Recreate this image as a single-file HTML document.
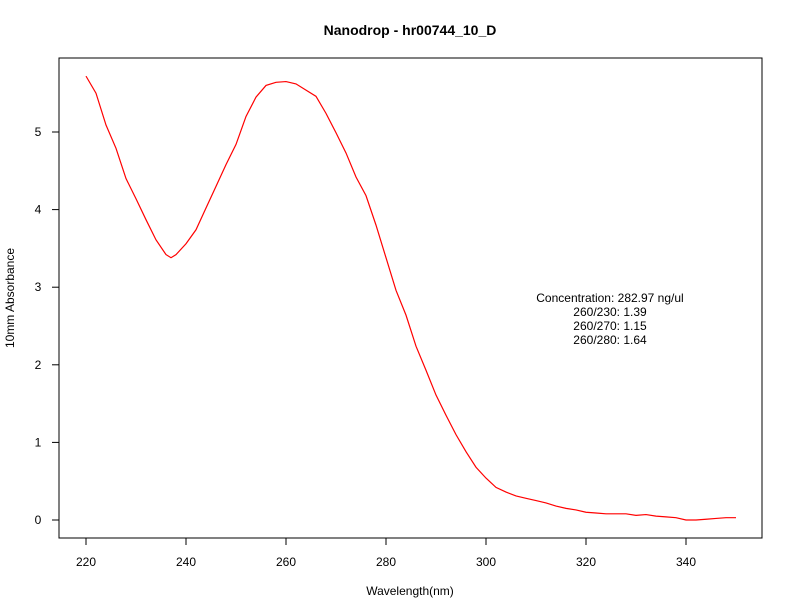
<!DOCTYPE html>
<html><head><meta charset="utf-8"><style>body{margin:0;background:#fff}svg{display:block;font-family:"Liberation Sans",sans-serif}</style></head>
<body>
<svg width="792" height="612">
<text x="410" y="35" text-anchor="middle" font-weight="bold" font-size="14">Nanodrop - hr00744_10_D</text>
<rect x="59" y="58" width="703" height="480" fill="none" stroke="#000"/>
<g id="xaxis"></g>
<g id="yaxis"></g>
<text x="410" y="595" text-anchor="middle" font-size="12">Wavelength(nm)</text>
<text transform="translate(14,298) rotate(-90)" text-anchor="middle" font-size="12">10mm Absorbance</text>
<polyline id="curve" fill="none" stroke="#f00" stroke-width="1.2"/>
<g font-size="12" text-anchor="middle">
<text x="610" y="302">Concentration: 282.97 ng/ul</text>
<text x="610" y="316">260/230: 1.39</text>
<text x="610" y="330">260/270: 1.15</text>
<text x="610" y="344">260/280: 1.64</text>
</g>
</svg>
<script>
const wavelengths=[220,222,224,226,228,230,232,234,236,237,238,240,242,244,246,248,250,252,254,256,258,260,262,264,266,268,270,272,274,276,278,280,282,284,286,288,290,292,294,296,298,300,302,304,306,308,310,312,314,316,318,320,322,324,326,328,330,332,334,336,338,340,342,344,346,348,350];
const absorbance=[5.72,5.50,5.09,4.79,4.40,4.14,3.87,3.61,3.42,3.38,3.42,3.56,3.74,4.02,4.30,4.58,4.84,5.20,5.45,5.60,5.64,5.65,5.62,5.54,5.46,5.24,4.99,4.73,4.42,4.18,3.80,3.38,2.96,2.64,2.24,1.93,1.61,1.35,1.10,0.88,0.68,0.54,0.42,0.36,0.31,0.28,0.25,0.22,0.18,0.15,0.13,0.10,0.09,0.08,0.08,0.08,0.06,0.07,0.05,0.04,0.03,0.0,0.0,0.01,0.02,0.03,0.03];
const xTicks=[220,240,260,280,300,320,340];
const yTicks=[0,1,2,3,4,5];
const NS="http://www.w3.org/2000/svg";
const xs=v=>86+(v-220)*5;
const ys=v=>520-v*77.6;
document.getElementById('curve').setAttribute('points',wavelengths.map((w,i)=>xs(w)+','+ys(absorbance[i])).join(' '));
const xa=document.getElementById('xaxis'),ya=document.getElementById('yaxis');
function mk(tag,attrs,parent){const e=document.createElementNS(NS,tag);for(const k in attrs)e.setAttribute(k,attrs[k]);parent.appendChild(e);return e;}
xTicks.forEach(t=>{
 const l=mk('line',{x1:xs(t),x2:xs(t),y1:538,y2:545,stroke:'#000'},xa);
 
 
 const tx=mk('text',{x:xs(t),y:566,'text-anchor':'middle','font-size':12},xa);
 tx.textContent=t;
 
 
});
yTicks.forEach(t=>{
 const l=mk('line',{x1:52,x2:59,y1:ys(t),y2:ys(t),stroke:'#000'},ya);
 
 
 const tx=mk('text',{x:38,y:ys(t)+4,'text-anchor':'middle','font-size':12},ya);
 tx.textContent=t;
 
 
});
</script>
</body></html>
